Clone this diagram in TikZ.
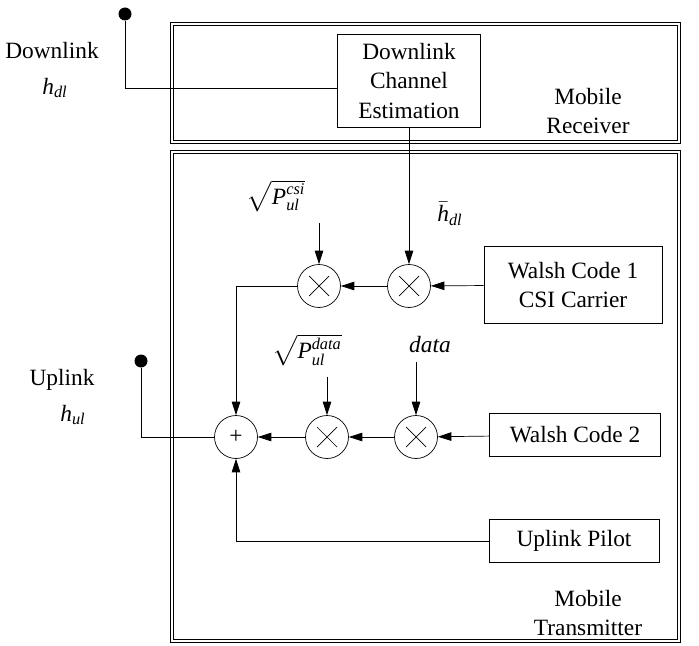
\documentclass[tikz,border=0pt]{standalone}
\usepackage{amsmath}
\usepackage{fontspec}
\setmainfont{Liberation Serif}
\usepackage{tikz}
\usetikzlibrary{arrows.meta, positioning, calc}

\begin{document}
\begin{tikzpicture}[x=0.02cm, y=-0.02cm,
  every node/.style={font=\fontsize{13.3}{17}\selectfont},
  block/.style={draw, thin, rectangle, align=center, inner sep=0pt},
  mult/.style={draw, thin, circle, minimum size=0.86cm, inner sep=0pt,
    path picture={\draw[thin, shift={(path picture bounding box.center)}]
      (-0.2cm,-0.2cm) -- (0.2cm,0.2cm) (-0.2cm,0.2cm) -- (0.2cm,-0.2cm);}},
  summer/.style={draw, thin, circle, minimum size=0.86cm, inner sep=0pt},
  frame/.style={draw, double, double distance=1.3pt, line width=0.55pt},
  arr/.style={-{Triangle[length=0.27cm, width=0.17cm]}, thin},
  dot/.style={fill, circle, minimum size=0.26cm, inner sep=0pt}]
  \useasboundingbox (0,0) rectangle (699,645);
  % Frames
  \draw[frame] (172,24) rectangle (679,142);
  \draw[frame] (172,152) rectangle (679,641);
  \node[align=center] (rxlbl) at (588,111) {Mobile\\Receiver};
  \node[align=center] (txlbl) at (588,613) {Mobile\\Transmitter};
  % Receiver
  \node[block, minimum width=2.86cm, minimum height=1.86cm]
    (est) at (409,81) {Downlink\\Channel\\Estimation};
  \node[dot] (dldot) at (125,14) {};
  \node (dltxt) at (52,51) {Downlink};
  \node (hdl) at (55,88) {\textit{h}\textsubscript{\textit{dl}}};
  \draw[thin] (dldot) |- ([yshift=-0.14cm]est.west);
  % Transmitter, CSI branch
  \node[mult] (m1) at (319,286) {};
  \node[mult] (m2) at (409,286) {};
  \node[block, minimum width=3.56cm, minimum height=1.54cm]
    (wc1) at (573,285) {Walsh Code 1\\CSI Carrier};
  \node (pcsi) at (276,196) {$\sqrt{\textit{P}^{\textit{csi}}_{\textit{ul}}}$};
  \node (hbar) at (450,214) {$\bar{\textit{h}}_{\textit{dl}}$};
  \draw[arr] (est.south -| m2) -- (m2);
  \draw[arr] (wc1) -- (m2);
  \draw[arr] (m2) -- (m1);
  \draw[arr] ([yshift=-0.1cm]pcsi.south -| m1) -- (m1);
  % Transmitter, data branch
  \node[summer] (plus) at (236,437) {+};
  \node[mult] (m3) at (327,437) {};
  \node[mult] (m4) at (416,437) {};
  \node[block, minimum width=3.42cm, minimum height=0.86cm]
    (wc2) at (575,435) {Walsh Code 2};
  \node (pdata) at (307,350) {$\sqrt{\textit{P}^{\textit{data}}_{\textit{ul}}}$};
  \node (data) at (430,345) {\textit{data}};
  \draw[arr] (wc2) -- (m4);
  \draw[arr] (m4) -- (m3);
  \draw[arr] (m3) -- (plus);
  \draw[arr] ([yshift=-0.1cm]pdata.south -| m3) -- (m3);
  \draw[arr] ([yshift=-0.05cm]data.south -| m4) -- (m4);
  \draw[arr] (m1.west) -| (plus.north);
  % Pilot
  \node[block, minimum width=3.4cm, minimum height=0.86cm]
    (pilot) at (574,541) {Uplink Pilot};
  \draw[arr] (pilot.west) -| (plus.south);
  % Uplink output
  \node[dot] (uldot) at (141,361) {};
  \node (ultxt) at (62,380) {Uplink};
  \node (hul) at (73,415) {\textit{h}\textsubscript{\textit{ul}}};
  \draw[thin] (uldot) |- (plus.west);
\end{tikzpicture}
\end{document}
